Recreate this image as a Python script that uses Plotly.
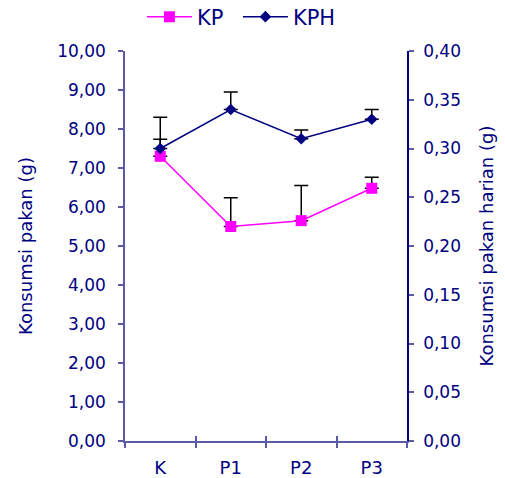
import plotly.graph_objects as go

categories = ["K", "P1", "P2", "P3"]
kp_values = [7.30, 5.50, 5.65, 6.48]
kp_err = [0.44, 0.74, 0.90, 0.28]
kph_values = [0.30, 0.34, 0.31, 0.33]
kph_err = [0.032, 0.018, 0.009, 0.010]

left_ticks = [0, 1, 2, 3, 4, 5, 6, 7, 8, 9, 10]
left_ticktext = ["0,00", "1,00", "2,00", "3,00", "4,00", "5,00", "6,00", "7,00", "8,00", "9,00", "10,00"]
right_ticks = [0, 0.05, 0.10, 0.15, 0.20, 0.25, 0.30, 0.35, 0.40]
right_ticktext = ["0,00", "0,05", "0,10", "0,15", "0,20", "0,25", "0,30", "0,35", "0,40"]

NAVY = "#000080"
AXIS = "#5a5aa6"
FONT = "DejaVu Sans"

fig = go.Figure()
fig.add_trace(go.Scatter(
    x=categories, y=kp_values, name="KP", mode="lines+markers",
    line=dict(color="#FF00FF", width=1.5),
    marker=dict(symbol="square", size=11, color="#FF00FF"),
    error_y=dict(type="data", array=kp_err, arrayminus=[0]*4, symmetric=False,
                 color="black", thickness=1.5, width=7),
    yaxis="y", xaxis="x",
))
fig.add_trace(go.Scatter(
    x=categories, y=kph_values, name="KPH", mode="lines+markers",
    line=dict(color=NAVY, width=1.5),
    marker=dict(symbol="diamond", size=9, color=NAVY),
    error_y=dict(type="data", array=kph_err, arrayminus=[0]*4, symmetric=False,
                 color="black", thickness=1.5, width=7),
    yaxis="y2", xaxis="x2",
))

fig.update_layout(
    width=505, height=478,
    margin=dict(l=125, r=98, t=51, b=37, autoexpand=False),
    paper_bgcolor="white", plot_bgcolor="white",
    font=dict(family=FONT, color=NAVY, size=17),
    showlegend=True,
    legend=dict(orientation="h", x=0.06, y=1.087, xanchor="left", yanchor="middle",
                font=dict(family=FONT, size=21, color=NAVY), bgcolor="rgba(0,0,0,0)",
                itemwidth=45, entrywidth=36, entrywidthmode="pixels"),
    xaxis=dict(type="category", categoryorder="array", categoryarray=categories,
               range=[-0.5, 3.5], showline=True, linecolor=AXIS, linewidth=1.5,
               ticks="outside", tickson="boundaries", ticklen=5, tickcolor=AXIS, tickwidth=1.5,
               showgrid=False, zeroline=False, ticklabelstandoff=10,
               tickfont=dict(family=FONT, size=18, color=NAVY)),
    xaxis2=dict(type="category", categoryorder="array", categoryarray=categories,
                range=[-0.5, 3.5], overlaying="x", anchor="y2", side="bottom",
                ticks="inside", tickson="boundaries", ticklen=5, tickcolor=AXIS, tickwidth=1.5,
                showticklabels=False, showgrid=False, zeroline=False, showline=False),
    yaxis=dict(range=[0, 10], tickvals=left_ticks, ticktext=left_ticktext,
               showline=True, linecolor=AXIS, linewidth=1.5,
               ticks="outside", ticklen=5, tickcolor=AXIS, tickwidth=1.5,
               showgrid=False, zeroline=False, ticklabelstandoff=9,
               tickfont=dict(family=FONT, size=17, color=NAVY),
               title=dict(text="Konsumsi pakan (g)", font=dict(family=FONT, size=18, color=NAVY),
                          standoff=20)),
    yaxis2=dict(range=[0, 0.4], tickvals=right_ticks, ticktext=right_ticktext,
                overlaying="y", side="right", anchor="x",
                showline=True, linecolor=NAVY, linewidth=1.5,
                ticks="outside", ticklen=5, tickcolor=AXIS, tickwidth=1.5,
                showgrid=False, zeroline=False, ticklabelstandoff=6,
                tickfont=dict(family=FONT, size=17, color=NAVY),
                title=dict(text="Konsumsi pakan harian (g)", font=dict(family=FONT, size=18, color=NAVY),
                           standoff=20)),
)

fig.write_html("out.html", config={"displayModeBar": False},
               post_script="document.body.style.margin='0';document.body.style.padding='0';")
